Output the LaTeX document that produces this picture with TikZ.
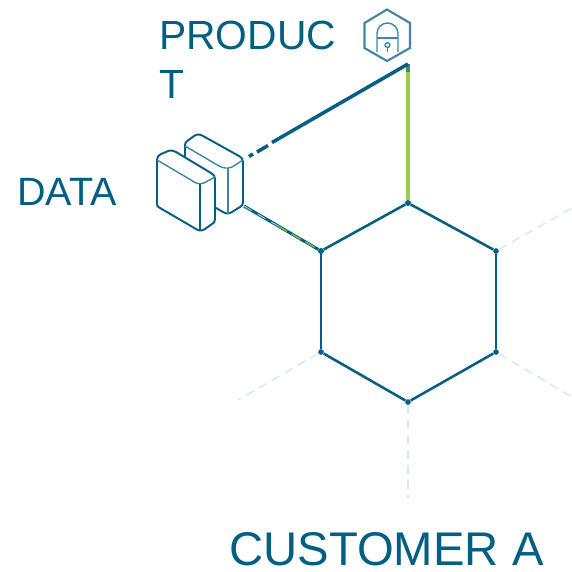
\documentclass[tikz,border=0pt]{standalone}
\usepackage{fontspec}
\setmainfont{Liberation Sans}
\definecolor{hexblue}{HTML}{005F83}
\definecolor{hexgreen}{HTML}{9CCB4A}
\definecolor{hexpale}{HTML}{DCE8EE}
\definecolor{iconblue}{HTML}{3F86A2}
\tikzset{
  hexlabel/.style={text=hexblue,inner sep=0pt,anchor=west,align=left},
  vertex/.style={circle,fill=hexblue,inner sep=0pt,minimum size=3.2pt},
  hexedge/.style={draw=hexblue,line width=1.45pt},
  spoke/.style={draw=hexpale,line width=.85pt,dash pattern=on 5pt off 3.5pt},
  icon/.style={draw=hexblue,line width=1.1pt,line join=round,fill=white},
  iconthin/.style={draw=iconblue,line width=.8pt}
}
\begin{document}
\begin{tikzpicture}[x=0.02cm,y=-0.02cm]
    \useasboundingbox (0,0) rectangle (572,572);
    %% Draw the labels
    \node[hexlabel,font=\fontsize{23.2}{28}\selectfont] (P) at (159,60) {PRODUC\\T};
    \node[hexlabel,font=\fontsize{22.5}{27}\selectfont] (D) at (17,192) {DATA};
    \node[hexlabel,font=\fontsize{26.9}{32}\selectfont] (C) at (229,549) {CUSTOMER A};
    %% Draw the corners of the hexagon
    \node[vertex] (HT) at (408,203) {};
    \node[vertex] (HUR) at (496,251) {};
    \node[vertex] (HLR) at (496,352) {};
    \node[vertex] (HB) at (408,402) {};
    \node[vertex] (HLL) at (321,352) {};
    \node[vertex] (HUL) at (321,251) {};
    %% Draw the free ends
    \coordinate (Apex) at (408,64);
    \coordinate (ApexLow) at (408,72);
    \coordinate (Top1) at (272,142.5);
    \coordinate (Top2) at (268,145.5);
    \coordinate (Top3) at (257,152);
    \coordinate (Top4) at (253,154);
    \coordinate (Top5) at (249,156.5);
    \coordinate (Low) at (244,206);
    \coordinate (LowMid) at (278,226);
    \coordinate (SR1) at (572,208);
    \coordinate (SR2) at (572,397);
    \coordinate (SB) at (408,498);
    \coordinate (SL) at (238,400);
    %% Draw the dashed spokes
    \begin{scope}[every path/.style={spoke}]
      \draw (HUR) -- (SR1);
      \draw (HLR) -- (SR2);
      \draw (HB) -- (SB);
      \draw (HLL) -- (SL);
    \end{scope}
    %% Draw the edges
    \begin{scope}[every path/.style={hexedge}]
      \draw (HT) -- (HUR);
      \draw (HUR) -- (HLR);
      \draw (HLR) -- (HB);
      \draw (HB) -- (HLL);
      \draw (HLL) -- (HUL);
      \draw (HUL) -- (HT);
    \end{scope}
    %% Draw the links
    \draw[draw=hexgreen,line width=2pt] (Apex) -- (HT);
    \draw[draw=hexblue!60!hexgreen,line width=2pt] (Apex) -- (ApexLow);
    \draw[hexedge,line width=2pt] (Apex) -- (Top1);
    \draw[hexedge,line width=2pt] (Top2) -- (Top3);
    \draw[hexedge,line width=2pt] (Top4) -- (Top5);
    \draw[draw=hexblue,line width=1.7pt] (Low) -- (HUL);
    \draw[draw=hexgreen!70!hexblue,line width=1pt,dash pattern=on 6pt off 3pt] (LowMid) -- (HUL);
    \draw[draw=hexpale,line width=.4pt,dash pattern=on 5pt off 4pt] (Low) -- (LowMid);
    \node[vertex] at (HT) {};
    \node[vertex] at (HUL) {};
    %% Draw the lock
    \draw[draw=iconblue,line width=1.2pt,fill=white] (387,9.5) -- (410,23) -- (410,48) -- (387,61) -- (364.5,48) -- (364.5,23) -- cycle;
    \begin{scope}[every path/.style={iconthin}]
      \draw (377,52) -- (377,33.5) arc[start angle=180,end angle=360,radius=10.5] -- (398,52);
      \draw (377,38) -- (398,38);
      \draw (387.5,47.5) -- (387.5,52);
      \draw (387.5,45) circle[radius=2.4];
    \end{scope}
    %% Draw the rear box
    \draw[icon] (185,146) .. controls (185,142) and (187,141) .. (190,139) -- (194,136) .. controls (197,134) and (200,134) .. (203,136) -- (239,156) .. controls (242,158) and (243,159) .. (243,162) -- (243,202) .. controls (243,205) and (242,206) .. (240,207) -- (232,212) .. controls (229,214) and (226,214) .. (223,212) -- (185,190) -- cycle;
    \draw[iconthin] (185,146) -- (219,166) .. controls (223,168) and (227,169) .. (232,167) -- (243,160);
    \draw[iconthin] (228,168) -- (228,214);
    %% Draw the front box
    \draw[icon] (157,160) .. controls (157,157) and (158,156) .. (161,154) -- (166,152) .. controls (169,150) and (172,150) .. (176,152) -- (211,173) .. controls (214,175) and (215,176) .. (215,179) -- (215,219) .. controls (215,222) and (214,223) .. (212,224) -- (205,229) .. controls (202,231) and (199,231) .. (196,229) -- (160,208) .. controls (158,207) and (157,206) .. (157,204) -- cycle;
    \draw[iconthin] (157,160) -- (191,180) .. controls (195,183) and (199,185) .. (204,183) -- (215,177);
    \draw[draw=hexblue,line width=.8pt] (200,184) -- (200,230);
  \end{tikzpicture}
\end{document}
